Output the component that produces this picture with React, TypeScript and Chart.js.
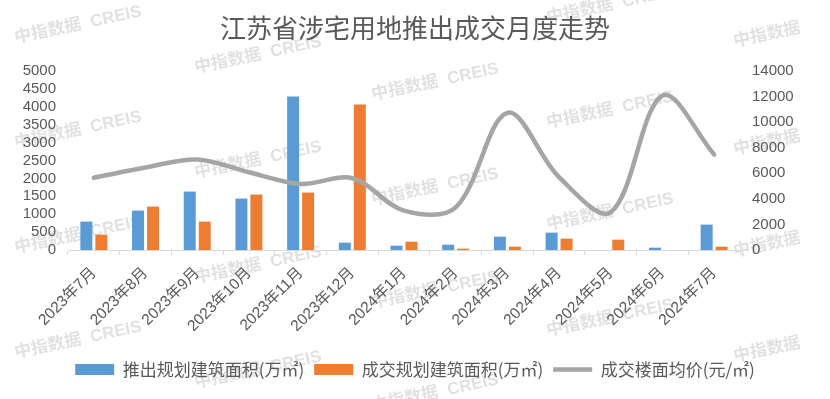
import React, { useEffect, useRef } from "react";
import { Chart, registerables } from "chart.js";

Chart.register(...registerables);

const TITLE = "江苏省涉宅用地推出成交月度走势";

const categories = [
  "2023年7月", "2023年8月", "2023年9月", "2023年10月", "2023年11月", "2023年12月",
  "2024年1月", "2024年2月", "2024年3月", "2024年4月", "2024年5月", "2024年6月", "2024年7月",
];

// 推出规划建筑面积(万㎡)
const launchedArea = [793, 1101, 1632, 1437, 4291, 205, 121, 149, 373, 485, 0, 65, 709];
// 成交规划建筑面积(万㎡)
const dealArea = [429, 1213, 793, 1549, 1604, 4067, 233, 37, 93, 317, 289, 0, 93];
// 成交楼面均价(元/㎡)
const avgPrice = [5650, 6450, 7080, 6080, 5170, 5610, 3080, 3340, 10730, 5700, 2950, 12090, 7470];

const leftTicks = [0, 500, 1000, 1500, 2000, 2500, 3000, 3500, 4000, 4500, 5000];
const rightTicks = [0, 2000, 4000, 6000, 8000, 10000, 12000, 14000];

const seriesNames = ["推出规划建筑面积(万㎡)", "成交规划建筑面积(万㎡)", "成交楼面均价(元/㎡)"];

const WM_FULL = "中指数据  CREIS";
const WM_SHORT = "中指数据";
const watermarks: [number, number, string][] = [
  [78, 25, WM_FULL], [78, 130, WM_FULL], [78, 235, WM_FULL], [78, 340, WM_FULL],
  [258, 55, WM_FULL], [258, 160, WM_FULL], [258, 265, WM_FULL], [258, 370, WM_FULL],
  [435, -22, WM_FULL], [435, 82, WM_FULL], [435, 187, WM_FULL], [435, 290, WM_FULL], [435, 393, WM_FULL],
  [610, 5, WM_FULL], [610, 110, WM_FULL], [610, 212, WM_FULL], [610, 318, WM_FULL],
  [767, 35, WM_SHORT], [767, 143, WM_SHORT], [767, 245, WM_SHORT], [767, 350, WM_SHORT],
];

const TEXT = "#595959";
const CJK = '"Noto Sans CJK SC"';
const LATIN = '"Liberation Sans", "Noto Sans CJK SC"';

const decorPlugin = {
  id: "decor",
  beforeDraw(chart: any) {
    const ctx = chart.ctx;
    ctx.save();
    ctx.fillStyle = "#ffffff";
    ctx.fillRect(0, 0, chart.width, chart.height);
    ctx.fillStyle = "rgba(0,0,0,0.12)";
    ctx.font = `bold 17px ${LATIN}`;
    ctx.textAlign = "center";
    ctx.textBaseline = "middle";
    for (const [x, y, t] of watermarks) {
      ctx.save();
      ctx.translate(x, y);
      ctx.rotate((-12 * Math.PI) / 180);
      ctx.fillText(t, 0, 0);
      ctx.restore();
    }
    ctx.fillStyle = TEXT;
    ctx.font = `26px ${CJK}`;
    ctx.fillText(TITLE, 415, 28);
    ctx.restore();
  },
};

export default function App() {
  const ref = useRef<HTMLCanvasElement>(null);

  useEffect(() => {
    const chart = new Chart(ref.current as HTMLCanvasElement, {
      type: "bar",
      data: {
        labels: categories,
        datasets: [
          {
            type: "bar",
            label: seriesNames[0],
            data: launchedArea,
            backgroundColor: "#5b9bd5",
            borderWidth: 0,
            pointStyle: "rect",
            yAxisID: "y",
            categoryPercentage: 0.58,
            barPercentage: 0.8,
          } as any,
          {
            type: "bar",
            label: seriesNames[1],
            data: dealArea,
            backgroundColor: "#ed7d31",
            borderWidth: 0,
            pointStyle: "rect",
            yAxisID: "y",
            categoryPercentage: 0.58,
            barPercentage: 0.8,
          } as any,
          {
            type: "line",
            label: seriesNames[2],
            data: avgPrice,
            borderColor: "#a5a5a5",
            backgroundColor: "#a5a5a5",
            borderWidth: 4.5,
            borderCapStyle: "round",
            borderJoinStyle: "round",
            pointRadius: 0,
            pointHoverRadius: 0,
            pointStyle: "line",
            tension: 0.34,
            yAxisID: "y1",
            order: -1,
          } as any,
        ],
      },
      options: {
        responsive: false,
        animation: false,
        devicePixelRatio: 1,
        layout: { padding: { top: 71, bottom: 11, left: 0, right: 0 } },
        plugins: {
          title: { display: false },
          tooltip: { enabled: false },
          legend: {
            position: "bottom",
            labels: {
              usePointStyle: true,
              pointStyleWidth: 39,
              boxHeight: 11,
              padding: 10,
              color: TEXT,
              font: { size: 17, family: CJK },
              sort: (a: any, b: any) => a.datasetIndex - b.datasetIndex,
            },
          },
        },
        scales: {
          x: {
            offset: true,
            grid: {
              display: true,
              offset: true,
              drawOnChartArea: false,
              drawTicks: true,
              tickLength: 5,
              color: "#d9d9d9",
            },
            border: { display: true, color: "#d9d9d9" },
            ticks: {
              autoSkip: false,
              minRotation: 45,
              maxRotation: 45,
              padding: 9,
              color: TEXT,
              font: { size: 15.5, family: LATIN },
            },
            afterFit: (s: any) => {
              s.height = 101;
            },
          },
          y: {
            position: "left",
            min: 0,
            max: 5000,
            grid: { display: false, drawTicks: false },
            border: { display: false },
            ticks: {
              autoSkip: false,
              padding: 12,
              color: TEXT,
              font: { size: 15, family: LATIN },
              callback: (v: any) => String(v),
            },
            afterBuildTicks: (s: any) => {
              s.ticks = leftTicks.map((v) => ({ value: v }));
            },
            afterFit: (s: any) => {
              s.width = 68;
            },
          },
          y1: {
            position: "right",
            min: 0,
            max: 14000,
            grid: { display: false, drawTicks: false },
            border: { display: false },
            ticks: {
              autoSkip: false,
              padding: 12,
              color: TEXT,
              font: { size: 15, family: LATIN },
              callback: (v: any) => String(v),
            },
            afterBuildTicks: (s: any) => {
              s.ticks = rightTicks.map((v) => ({ value: v }));
            },
            afterFit: (s: any) => {
              s.width = 90;
            },
          },
        },
      },
      plugins: [decorPlugin],
    } as any);
    return () => chart.destroy();
  }, []);

  return (
    <div style={{ position: "fixed", left: 0, top: 0, width: 830, height: 399, background: "#fff" }}>
      <canvas ref={ref} width={830} height={399} style={{ display: "block", width: 830, height: 399 }} />
    </div>
  );
}
